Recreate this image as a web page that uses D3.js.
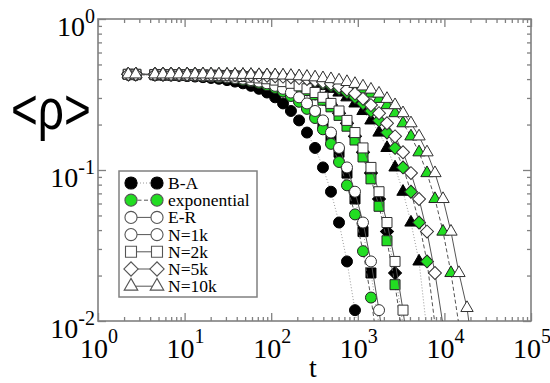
<!DOCTYPE html>
<html>
<head>
<meta charset="utf-8">
<script src="https://cdn.jsdelivr.net/npm/d3@7"></script>
<style>
    body { margin: 0; background: #fff; }
    svg { display: block; }
</style>
</head>
<body>
<svg id="chart"></svg>
<script>
// time grid shared by every set
const T = [2.24, 2.73, 4.55, 5.63, 6.97, 8.62, 10.7, 13.2, 16.3, 20.2, 24.9, 30.9, 38.2, 47.2, 58.4, 72.3, 89.5, 111, 137, 169,
    210, 259, 321, 396, 490, 607, 750, 928, 1148, 1419, 1758, 2173, 2692, 3327, 4111, 5093, 6295, 7780, 9638, 11910,
    14720, 18240, 22540]

// B-A (black)
const baCirc = [0.428, 0.427, 0.425, 0.424, 0.423, 0.421, 0.419, 0.416, 0.412, 0.407, 0.402, 0.394, 0.385, 0.375, 0.361,
    0.345, 0.326, 0.303, 0.276, 0.246, 0.213, 0.177, 0.140, 0.104, 0.0718, 0.0449, 0.0248, 0.0118, 0.0046]
const baSq = [0.429, 0.428, 0.427, 0.427, 0.426, 0.425, 0.424, 0.423, 0.421, 0.418, 0.415, 0.411, 0.406, 0.400, 0.392,
    0.383, 0.372, 0.358, 0.341, 0.321, 0.296, 0.269, 0.238, 0.204, 0.167, 0.131, 0.0954, 0.0643, 0.0391, 0.0208, 0.0094]
const baDiam = [0.430, 0.430, 0.429, 0.428, 0.428, 0.427, 0.427, 0.426, 0.425, 0.424, 0.423, 0.421, 0.418, 0.415, 0.411,
    0.406, 0.400, 0.392, 0.383, 0.372, 0.358, 0.341, 0.321, 0.296, 0.269, 0.238, 0.204, 0.167, 0.131, 0.0954, 0.0643,
    0.0391, 0.0208, 0.0094]
const baTri = [0.430, 0.430, 0.430, 0.430, 0.429, 0.429, 0.429, 0.428, 0.428, 0.427, 0.426, 0.425, 0.424, 0.423, 0.421,
    0.419, 0.416, 0.412, 0.407, 0.402, 0.394, 0.385, 0.375, 0.361, 0.345, 0.326, 0.303, 0.276, 0.246, 0.213, 0.177,
    0.140, 0.104, 0.0718, 0.0449, 0.0248, 0.0085]

// exponential (green)
const expCirc = [0.429, 0.428, 0.427, 0.427, 0.426, 0.425, 0.424, 0.422, 0.420, 0.417, 0.413, 0.409, 0.404, 0.396, 0.388,
    0.378, 0.365, 0.350, 0.331, 0.309, 0.283, 0.254, 0.221, 0.186, 0.149, 0.113, 0.0792, 0.0508, 0.0290, 0.0143, 0.0059]
const expSq = [0.430, 0.430, 0.429, 0.428, 0.428, 0.427, 0.427, 0.426, 0.425, 0.424, 0.422, 0.420, 0.417, 0.414, 0.410,
    0.405, 0.398, 0.390, 0.380, 0.368, 0.354, 0.336, 0.315, 0.290, 0.262, 0.230, 0.195, 0.158, 0.122, 0.0874, 0.0575,
    0.0340, 0.0174, 0.0075]
const expDiam = [0.430, 0.430, 0.430, 0.430, 0.430, 0.429, 0.429, 0.429, 0.428, 0.428, 0.427, 0.426, 0.425, 0.424, 0.423,
    0.421, 0.419, 0.416, 0.412, 0.407, 0.402, 0.394, 0.385, 0.375, 0.361, 0.345, 0.326, 0.303, 0.276, 0.246, 0.213,
    0.177, 0.140, 0.104, 0.0718, 0.0449, 0.0248, 0.0095]
const expTri = [0.430, 0.430, 0.430, 0.430, 0.430, 0.430, 0.430, 0.430, 0.429, 0.429, 0.428, 0.428, 0.427, 0.427, 0.426,
    0.425, 0.424, 0.423, 0.421, 0.418, 0.415, 0.411, 0.406, 0.400, 0.392, 0.383, 0.372, 0.358, 0.341, 0.321, 0.296,
    0.269, 0.238, 0.204, 0.167, 0.131, 0.0954, 0.0643, 0.0391, 0.0208, 0.0094]

// E-R (open)
const erCirc = [0.429, 0.429, 0.428, 0.427, 0.426, 0.425, 0.424, 0.423, 0.421, 0.419, 0.416, 0.412, 0.407, 0.402, 0.394,
    0.385, 0.375, 0.361, 0.345, 0.326, 0.303, 0.276, 0.246, 0.213, 0.177, 0.140, 0.104, 0.0718, 0.0449, 0.0248, 0.0118,
    0.0046]
const erSq = [0.430, 0.430, 0.429, 0.429, 0.428, 0.428, 0.427, 0.426, 0.425, 0.424, 0.423, 0.421, 0.419, 0.416, 0.412,
    0.407, 0.402, 0.394, 0.385, 0.375, 0.361, 0.345, 0.326, 0.303, 0.276, 0.246, 0.213, 0.177, 0.140, 0.104, 0.0718,
    0.0449, 0.0248, 0.0118, 0.0046]
const erDiam = [0.430, 0.430, 0.430, 0.430, 0.430, 0.430, 0.429, 0.429, 0.428, 0.428, 0.427, 0.427, 0.426, 0.425, 0.424,
    0.423, 0.421, 0.418, 0.415, 0.411, 0.406, 0.400, 0.392, 0.383, 0.372, 0.358, 0.341, 0.321, 0.296, 0.269, 0.238,
    0.204, 0.167, 0.131, 0.0954, 0.0643, 0.0391, 0.0208, 0.0094]
const erTri = [0.430, 0.430, 0.430, 0.430, 0.430, 0.430, 0.430, 0.430, 0.430, 0.429, 0.429, 0.428, 0.428, 0.427, 0.427,
    0.426, 0.425, 0.424, 0.423, 0.421, 0.418, 0.415, 0.411, 0.406, 0.400, 0.392, 0.383, 0.372, 0.358, 0.341, 0.321,
    0.296, 0.269, 0.238, 0.204, 0.167, 0.131, 0.0954, 0.0643, 0.0391, 0.0208, 0.0122, 0.0050]

const xMajor = [1, 10, 100, 1000, 10000, 100000]
const xExp = ["0", "1", "2", "3", "4", "5"]
const yMajor = [0.01, 0.1, 1]
const yExp = ["-2", "-1", "0"]
const legendNames = ["B-A", "exponential", "E-R", "N=1k", "N=2k", "N=5k", "N=10k"]

let w = 550,
    h = 383,
    pLeft = 98,
    pRight = 531,
    pTop = 19,
    pBottom = 321

const serif = "'Liberation Serif', 'Times New Roman', serif"
const sans = "'Liberation Sans', Arial, sans-serif"
const green = "#22dd22"
const frameCol = "#808080"

let svg = d3.select("#chart").attr("width", w).attr("height", h)

let x = d3.scaleLog().domain([1, 1e5]).range([pLeft, pRight])
let y = d3.scaleLog().domain([0.01, 1]).range([pBottom, pTop])

let xMinor = []
xMajor.slice(0, -1).forEach(d => { for (let m = 2; m < 10; m++) xMinor.push(d * m) })
let yMinor = []
yMajor.slice(0, -1).forEach(d => { for (let m = 2; m < 10; m++) yMinor.push(d * m) })

// ticks on all four sides, pointing in
function ticks(axis, vals, len, tx, ty) {
    let g = svg.append("g").attr("transform", "translate(" + tx + "," + ty + ")")
        .call(axis.tickValues(vals).tickSize(-len).tickSizeOuter(0).tickFormat(""))
    g.select(".domain").remove()
    g.selectAll("line").attr("stroke", frameCol).attr("stroke-width", 1.3)
}
ticks(d3.axisBottom(x), xMajor, 8, 0, pBottom)
ticks(d3.axisBottom(x), xMinor, 4, 0, pBottom)
ticks(d3.axisTop(x), xMajor, 8, 0, pTop)
ticks(d3.axisTop(x), xMinor, 4, 0, pTop)
ticks(d3.axisLeft(y), yMajor, 8, pLeft, 0)
ticks(d3.axisLeft(y), yMinor, 4, pLeft, 0)
ticks(d3.axisRight(y), yMajor, 8, pRight, 0)
ticks(d3.axisRight(y), yMinor, 4, pRight, 0)

svg.append("rect")
    .attr("x", pLeft).attr("y", pTop)
    .attr("width", pRight - pLeft).attr("height", pBottom - pTop)
    .attr("fill", "none").attr("stroke", frameCol).attr("stroke-width", 1.6)

// tick labels 10^n
xMajor.forEach((v, i) => {
    let t = svg.append("text")
        .style("font-family", serif)
        .attr("x", x(v) + 1).attr("y", 358)
        .attr("text-anchor", "middle")
    t.append("tspan").attr("font-size", 28).text("10")
    t.append("tspan").attr("font-size", 20).attr("dy", -15).text(xExp[i])
})
yMajor.forEach((v, i) => {
    let t = svg.append("text")
        .style("font-family", serif)
        .attr("x", 95).attr("y", y(v) + 17)
        .attr("text-anchor", "end")
    t.append("tspan").attr("font-size", 28).text("10")
    t.append("tspan").attr("font-size", 20).attr("dy", -13).text(yExp[i])
})

svg.append("text")
    .style("font-family", serif)
    .attr("x", 313).attr("y", 377)
    .attr("text-anchor", "middle")
    .attr("font-size", 28)
    .text("t")

svg.append("text")
    .style("font-family", sans)
    .attr("transform", "translate(11,129) scale(1,1.25)")
    .attr("font-size", 46)
    .text("<ρ>")

// symbols
const symCircle = d3.symbol().type(d3.symbolCircle).size(95)()
const symSquare = d3.symbol().type(d3.symbolSquare).size(100)()
const symDiam = d3.symbol().type(d3.symbolSquare).size(84)()
const symTri = d3.symbol().type(d3.symbolTriangle).size(66)()
const shapes = {
    circle: { d: symCircle, rot: 0 },
    square: { d: symSquare, rot: 0 },
    diamond: { d: symDiam, rot: 45 },
    triangle: { d: symTri, rot: 0 }
}
const kinds = {
    ba: { fill: "#000", stroke: "#000", line: "#9a9a9a", dash: "1,2" },
    exp: { fill: green, stroke: "#222", line: "#555", dash: "4,2.5" },
    er: { fill: "#fff", stroke: "#333", line: "#555", dash: null }
}

const sets = [
    { v: baCirc, shape: "circle", kind: "ba" },
    { v: baSq, shape: "square", kind: "ba" },
    { v: baDiam, shape: "diamond", kind: "ba" },
    { v: baTri, shape: "triangle", kind: "ba" },
    { v: expCirc, shape: "circle", kind: "exp" },
    { v: expSq, shape: "square", kind: "exp" },
    { v: expDiam, shape: "diamond", kind: "exp" },
    { v: expTri, shape: "triangle", kind: "exp" },
    { v: erCirc, shape: "circle", kind: "er" },
    { v: erSq, shape: "square", kind: "er" },
    { v: erDiam, shape: "diamond", kind: "er" },
    { v: erTri, shape: "triangle", kind: "er" }
]

svg.append("clipPath").attr("id", "plotclip")
    .append("rect")
    .attr("x", pLeft).attr("y", pTop)
    .attr("width", pRight - pLeft).attr("height", pBottom - pTop)

let line = d3.line().x(d => x(d[0])).y(d => y(d[1]))

let g_sets = svg.append("g")
sets.forEach(s => {
    let k = kinds[s.kind]
    let pts = s.v.map((r, i) => [T[i], r])
    let g = g_sets.append("g")
    g.append("path")
        .datum(pts)
        .attr("d", line)
        .attr("clip-path", "url(#plotclip)")
        .attr("fill", "none")
        .attr("stroke", k.line)
        .attr("stroke-width", 1)
        .attr("stroke-dasharray", k.dash)
    g.selectAll(".m")
        .data(pts.filter(d => d[1] >= 0.0098))
        .enter().append("path")
        .attr("d", shapes[s.shape].d)
        .attr("transform", d => "translate(" + x(d[0]) + "," + y(d[1]) + ") rotate(" + shapes[s.shape].rot + ")")
        .attr("fill", k.fill)
        .attr("stroke", k.stroke)
        .attr("stroke-width", 1)
})

// legend
const legendSets = [
    { shape: "circle", kind: "ba" },
    { shape: "circle", kind: "exp" },
    { shape: "circle", kind: "er" },
    { shape: "circle", kind: "er" },
    { shape: "square", kind: "er" },
    { shape: "diamond", kind: "er" },
    { shape: "triangle", kind: "er" }
]
let lg = svg.append("g")
lg.append("rect")
    .attr("x", 119).attr("y", 171)
    .attr("width", 138).attr("height", 126)
    .attr("fill", "#fff").attr("stroke", frameCol).attr("stroke-width", 1.5)

legendNames.forEach((name, i) => {
    let ly = 183 + 17.2 * i
    let s = legendSets[i]
    let k = kinds[s.kind]
    lg.append("line")
        .attr("x1", 131).attr("x2", 157)
        .attr("y1", ly).attr("y2", ly)
        .attr("stroke", k.line).attr("stroke-width", 1)
        .attr("stroke-dasharray", k.dash)
    ;[131, 157].forEach(sx => {
        lg.append("path")
            .attr("d", shapes[s.shape].d)
            .attr("transform", "translate(" + sx + "," + ly + ") rotate(" + shapes[s.shape].rot + ") scale(1.1)")
            .attr("fill", k.fill)
            .attr("stroke", s.kind == "ba" ? "#000" : "#555")
            .attr("stroke-width", 1)
    })
    lg.append("text")
        .style("font-family", serif)
        .attr("x", 168).attr("y", ly + 6)
        .attr("font-size", 17.5)
        .text(name)
})
</script>
</body>
</html>
